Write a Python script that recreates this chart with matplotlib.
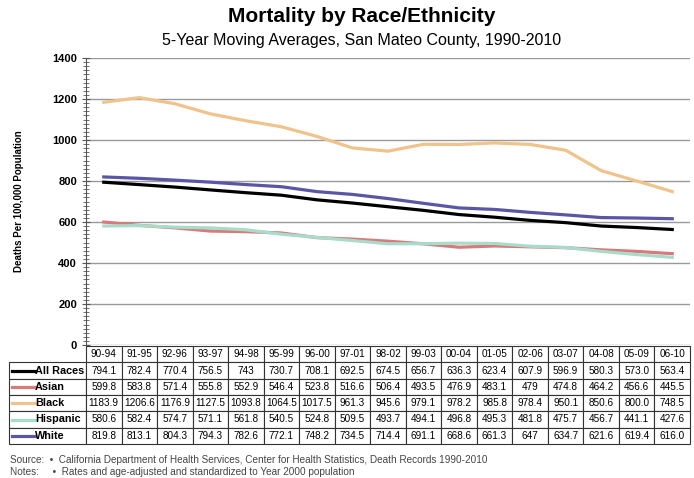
import matplotlib.pyplot as plt
from matplotlib.lines import Line2D
from matplotlib.ticker import MultipleLocator

plt.rcParams['font.family'] = ['Liberation Sans', 'DejaVu Sans']

### Data ###
periods = ['90-94', '91-95', '92-96', '93-97', '94-98', '95-99', '96-00', '97-01', '98-02',
           '99-03', '00-04', '01-05', '02-06', '03-07', '04-08', '05-09', '06-10']
all_races = [794.1, 782.4, 770.4, 756.5, 743, 730.7, 708.1, 692.5, 674.5,
             656.7, 636.3, 623.4, 607.9, 596.9, 580.3, 573.0, 563.4]
asian = [599.8, 583.8, 571.4, 555.8, 552.9, 546.4, 523.8, 516.6, 506.4,
         493.5, 476.9, 483.1, 479, 474.8, 464.2, 456.6, 445.5]
black = [1183.9, 1206.6, 1176.9, 1127.5, 1093.8, 1064.5, 1017.5, 961.3, 945.6,
         979.1, 978.2, 985.8, 978.4, 950.1, 850.6, 800.0, 748.5]
hispanic = [580.6, 582.4, 574.7, 571.1, 561.8, 540.5, 524.8, 509.5, 493.7,
            494.1, 496.8, 495.3, 481.8, 475.7, 456.7, 441.1, 427.6]
white = [819.8, 813.1, 804.3, 794.3, 782.6, 772.1, 748.2, 734.5, 714.4,
         691.1, 668.6, 661.3, 647, 634.7, 621.6, 619.4, 616.0]

# table text as printed in the source
all_races_txt = ['794.1', '782.4', '770.4', '756.5', '743', '730.7', '708.1', '692.5', '674.5',
                 '656.7', '636.3', '623.4', '607.9', '596.9', '580.3', '573.0', '563.4']
asian_txt = ['599.8', '583.8', '571.4', '555.8', '552.9', '546.4', '523.8', '516.6', '506.4',
             '493.5', '476.9', '483.1', '479', '474.8', '464.2', '456.6', '445.5']
black_txt = ['1183.9', '1206.6', '1176.9', '1127.5', '1093.8', '1064.5', '1017.5', '961.3', '945.6',
             '979.1', '978.2', '985.8', '978.4', '950.1', '850.6', '800.0', '748.5']
hispanic_txt = ['580.6', '582.4', '574.7', '571.1', '561.8', '540.5', '524.8', '509.5', '493.7',
                '494.1', '496.8', '495.3', '481.8', '475.7', '456.7', '441.1', '427.6']
white_txt = ['819.8', '813.1', '804.3', '794.3', '782.6', '772.1', '748.2', '734.5', '714.4',
             '691.1', '668.6', '661.3', '647', '634.7', '621.6', '619.4', '616.0']

series_names = ['All Races', 'Asian', 'Black', 'Hispanic', 'White']
series_vals = [all_races, asian, black, hispanic, white]
series_txt = [all_races_txt, asian_txt, black_txt, hispanic_txt, white_txt]
colors = ['#000000', '#d87a7c', '#f0c38c', '#a8dcca', '#5a56a6']

### Plotting ###
fig = plt.figure(figsize=(6.94, 4.78), dpi=100)
ax = fig.add_axes([86 / 694, 1 - 345 / 478, 604 / 694, 287 / 478])

x = list(range(len(periods)))
for name, vals, c in zip(series_names, series_vals, colors):
    ax.plot(x, vals, color=c, lw=2.3, label=name, zorder=3)

ax.set_xlim(-0.5, len(periods) - 0.5)
ax.set_ylim(0, 1400)
ax.yaxis.set_major_locator(MultipleLocator(200))
ax.yaxis.set_minor_locator(MultipleLocator(20))
ax.grid(axis='y', color='#999999', lw=1)
ax.set_axisbelow(True)
ax.set_xticks([])
for s in ['top', 'right', 'bottom']:
    ax.spines[s].set_visible(False)
ax.spines['left'].set_color('#555555')
ax.tick_params(axis='y', which='major', direction='inout', length=6, labelsize=8, color='#555555')
ax.tick_params(axis='y', which='minor', direction='inout', length=4, color='#555555')
for lab in ax.get_yticklabels():
    lab.set_fontweight('bold')
ax.set_ylabel('Deaths Per 100,000 Population', fontsize=7, fontweight='bold', labelpad=20)

# data table under the chart
cell_text = [[''] + t for t in series_txt]
label_w = 77 / 604
col_w = 1.0 / len(periods)
tbl_top = -1 / 287
tbl_h = 98 / 287
tbl = ax.table(cellText=cell_text, colLabels=[''] + periods,
               colWidths=[label_w] + [col_w] * len(periods),
               cellLoc='center',
               bbox=[-label_w, tbl_top - tbl_h, 1 + label_w, tbl_h])
tbl.auto_set_font_size(False)
tbl.set_fontsize(7.2)
for (r, c), cell in tbl.get_celld().items():
    cell.set_linewidth(0.8)
    cell.set_edgecolor('#333333')
    cell.PAD = 0.02
tbl[0, 0].visible_edges = ''

# legend swatches and names in the label column
row_h = tbl_h / 6
for i, (name, c) in enumerate(zip(series_names, colors)):
    yy = tbl_top - row_h * (i + 1.5)
    ax.add_line(Line2D([-label_w + 3 / 604, -label_w + 26 / 604], [yy, yy],
                       transform=ax.transAxes, color=c, lw=2.3, clip_on=False))
    ax.text(-label_w + 26 / 604, yy, name, transform=ax.transAxes, ha='left', va='center',
            fontsize=7.8, fontweight='bold', clip_on=False)

fig.text(362 / 694, 1 - 17 / 478, 'Mortality by Race/Ethnicity', ha='center', va='center',
         fontsize=15, fontweight='bold')
fig.text(362 / 694, 1 - 40 / 478, '5-Year Moving Averages, San Mateo County, 1990-2010',
         ha='center', va='center', fontsize=11.5)
fig.text(10 / 694, 1 - 460 / 478, 'Source:  \u2022  California Department of Health Services, Center for Health Statistics, Death Records 1990-2010',
         ha='left', va='center', fontsize=7.2, color='#444444')
fig.text(10 / 694, 1 - 472 / 478, 'Notes:     \u2022  Rates and age-adjusted and standardized to Year 2000 population',
         ha='left', va='center', fontsize=7.2, color='#444444')

fig.savefig('out.png', dpi=100)
